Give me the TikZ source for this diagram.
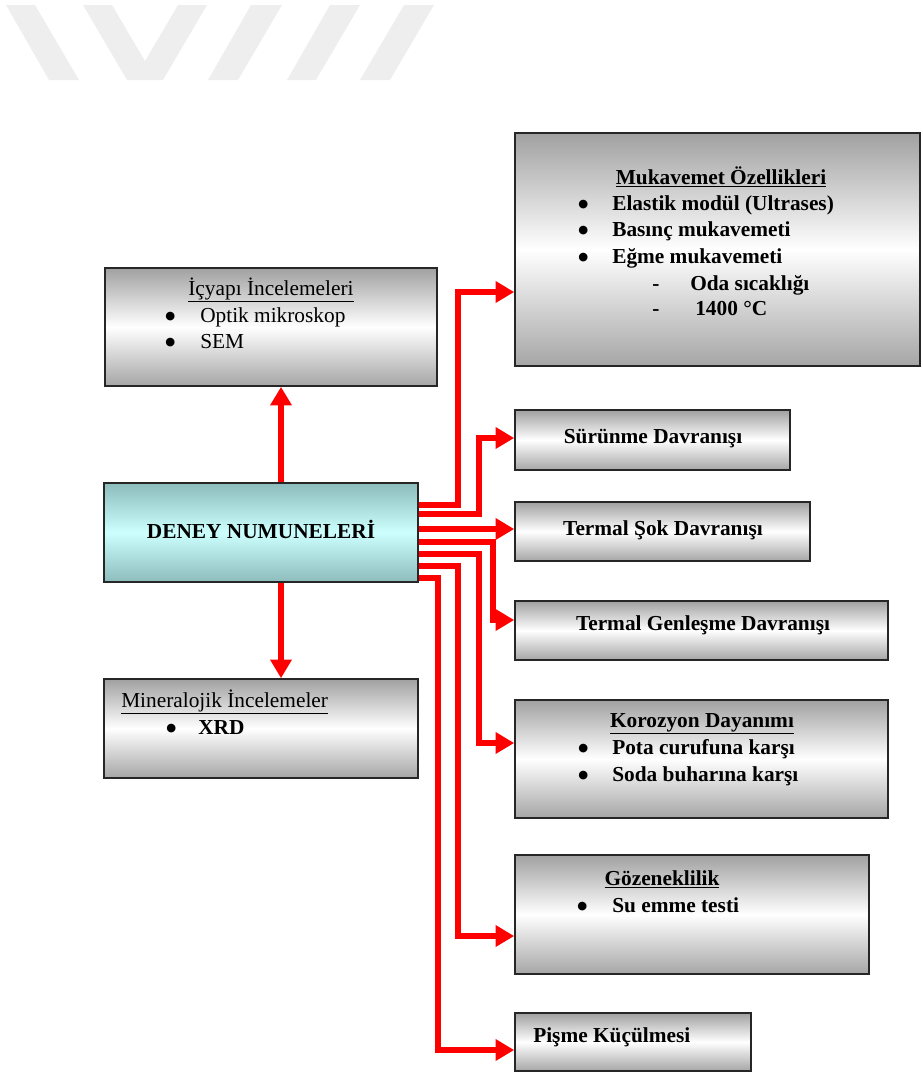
\documentclass[tikz,border=0pt]{standalone}
\usepackage{fontspec}
\setmainfont{Liberation Serif}
\newfontfamily\symfont{DejaVu Sans}
\usetikzlibrary{arrows.meta,calc,fit}

\definecolor{wmark}{HTML}{EEEEEE}
\definecolor{tealtop}{RGB}{140,188,188}
\definecolor{tealmid}{RGB}{205,255,255}

\newcommand{\bul}{\raisebox{2pt}{\symfont\fontsize{8.5}{9}\selectfont ●}}

\begin{document}
\begin{tikzpicture}[x=0.75pt,y=-0.75pt,
  box/.style={draw=black!85,line width=1.2pt,inner sep=0pt,
    top color=black!37,bottom color=black!35,middle color=white},
  samplebox/.style={draw=black!85,line width=1.2pt,inner sep=0pt,
    top color=tealtop,bottom color=tealtop,middle color=tealmid},
  link/.style={draw=red,line width=4.8pt,-{Triangle[length=14pt,width=15.5pt]}},
  txt/.style={anchor=base west,inner sep=0pt,font=\fontsize{16}{19}\selectfont\bfseries},
  head/.style={anchor=base,inner sep=0pt,font=\fontsize{16}{19}\selectfont\bfseries},
  thin/.style={font=\fontsize{16}{19}\selectfont\mdseries}]
  \useasboundingbox (0,0) rectangle (922,1072);

  % Watermark
  \fill[wmark] (6,5) -- (35,5) -- (79,80) -- (49,80) -- cycle;
  \fill[wmark] (83,5) -- (112,5) -- (145,61) -- (178,5) -- (207,5) -- (163,80) -- (127,80) -- cycle;
  \fill[wmark] (251,5) -- (282,5) -- (238,80) -- (208,80) -- cycle;
  \fill[wmark] (330,5) -- (360,5) -- (316,80) -- (287,80) -- cycle;
  \fill[wmark] (404,5) -- (434,5) -- (390,80) -- (360,80) -- cycle;

  % Boxes
  \node[samplebox,fit={(104,483) (418,582)}] (deney) {};
  \node[box,fit={(105,268) (437,386)}] (icy) {};
  \node[box,fit={(104,679) (418,778)}] (mine) {};
  \node[box,fit={(515,133) (920,366)}] (muk) {};
  \node[box,fit={(515,410) (790,470)}] (sur) {};
  \node[box,fit={(515,502) (810,561)}] (sok) {};
  \node[box,fit={(515,601) (888,660)}] (gen) {};
  \node[box,fit={(515,700) (888,818)}] (kor) {};
  \node[box,fit={(515,855) (869,974)}] (goz) {};
  \node[box,fit={(515,1013) (751,1071)}] (pis) {};

  % Box texts
  \node[head] (deney-t) at (261,538) {DENEY NUMUNELERİ};
  \node[head] (sur-t) at (653,443) {Sürünme Davranışı};
  \node[head] (sok-t) at (663,535) {Termal Şok Davranışı};
  \node[head] (gen-t) at (703,630) {Termal Genleşme Davranışı};

  \node[head,thin] (icy-t) at (271,295) {\underline{İçyapı İncelemeleri}};
  \node[txt,thin] (icy-a) at (200,322) {Optik mikroskop};
  \node[txt,thin] (icy-b) at (200,348) {SEM};
  \foreach \y in {322,348}
    \node[txt] (icy-dot-\y) at (165,\y) {\bul};

  \node[head] (muk-t) at (721,184) {\underline{Mukavemet Özellikleri}};
  \node[txt] (muk-a) at (612,210) {Elastik modül (Ultrases)};
  \node[txt] (muk-b) at (612,236) {Basınç mukavemeti};
  \node[txt] (muk-c) at (612,263) {Eğme mukavemeti};
  \node[txt] (muk-d) at (690,290) {Oda sıcaklığı};
  \node[txt] (muk-e) at (695,315) {1400 °C};
  \foreach \y in {210,236,263}
    \node[txt] (muk-dot-\y) at (578,\y) {\bul};
  \foreach \y in {290,315}
    \node[txt] (muk-dash-\y) at (652,\y) {-};

  \node[head] (kor-t) at (702,727) {\underline{Korozyon Dayanımı}};
  \node[txt] (kor-a) at (612,754) {Pota curufuna karşı};
  \node[txt] (kor-b) at (612,781) {Soda buharına karşı};
  \foreach \y in {754,781}
    \node[txt] (kor-dot-\y) at (578,\y) {\bul};

  \node[head] (goz-t) at (662,885) {\underline{Gözeneklilik}};
  \node[txt] (goz-a) at (612,912) {Su emme testi};
  \node[txt] (goz-dot) at (577,912) {\bul};

  \node[txt] (pis-t) at (533,1042) {Pişme Küçülmesi};

  \node[txt,thin] (mine-t) at (121,707) {\underline{Mineralojik İncelemeler}};
  \node[txt] (mine-a) at (198,734) {XRD};
  \node[txt] (mine-dot) at (166,734) {\bul};

  % Links up and down
  \coordinate (up) at ($(deney.north)+(20,0)$);
  \coordinate (down) at ($(deney.south)+(20,0)$);
  \draw[link] (up) -- (up |- icy.south);
  \draw[link] (down) -- (down |- mine.north);

  % Links to the right
  \draw[link] (deney.east |- 0,505) -- ++(39,0) |- (muk.west |- 0,292);
  \draw[link] (deney.east |- 0,514) -- ++(60,0) |- (sur.west |- 0,438);
  \draw[link] (deney.east |- 0,529) -- (sok.west |- 0,529);
  \draw[link] (deney.east |- 0,542) -- ++(74,0) |- (gen.west |- 0,620);
  \draw[link] (deney.east |- 0,554) -- ++(60,0) |- (kor.west |- 0,743);
  \draw[link] (deney.east |- 0,566) -- ++(39,0) |- (goz.west |- 0,936);
  \draw[link] (deney.east |- 0,578) -- ++(19,0) |- (pis.west |- 0,1050);

\end{tikzpicture}
\end{document}
